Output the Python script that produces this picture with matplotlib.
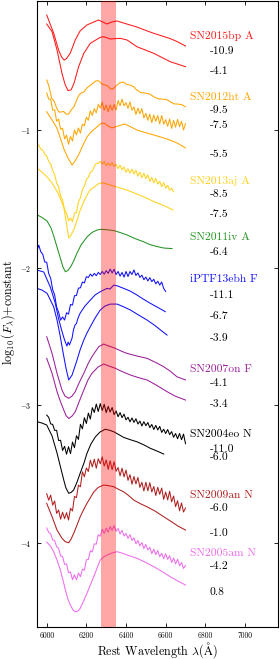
import numpy as np
import matplotlib
matplotlib.use("Agg")
import matplotlib.pyplot as plt

plt.rcParams['font.family'] = ['cmr10', 'DejaVu Serif']
plt.rcParams['mathtext.fontset'] = 'cm'
plt.rcParams['axes.unicode_minus'] = False
plt.rcParams['axes.formatter.use_mathtext'] = True

# ---------------- data ----------------
# SN2015bp
wl_15bp_a = [6000, 6035, 6060, 6075, 6088, 6100, 6119, 6144, 6169, 6203, 6261, 6284, 6303, 6328,
             6354, 6404, 6455, 6495, 6540, 6582, 6623, 6657, 6700]
fl_15bp_a = [-0.165, -0.296, -0.419, -0.470, -0.492, -0.481, -0.441, -0.346, -0.279, -0.237, -0.201,
             -0.216, -0.230, -0.216, -0.208, -0.230, -0.252, -0.274, -0.298, -0.317, -0.336, -0.357, -0.390]
wl_15bp_b = [6000, 6027, 6052, 6077, 6092, 6107, 6123, 6138, 6161, 6187, 6220, 6270, 6287, 6321,
             6371, 6405, 6455, 6540, 6623, 6700]
fl_15bp_b = [-0.230, -0.286, -0.419, -0.588, -0.666, -0.713, -0.709, -0.659, -0.540, -0.443, -0.370,
             -0.327, -0.322, -0.339, -0.334, -0.346, -0.395, -0.443, -0.504, -0.540]

# SN2012ht
wl_12ht_a = [6000, 6010, 6025, 6037, 6050, 6062, 6072, 6085, 6097, 6110, 6123, 6138, 6151, 6163, 6175,
             6190, 6202, 6228, 6245, 6261, 6277, 6294, 6308, 6322, 6336, 6349, 6368, 6387, 6404, 6420,
             6437, 6455, 6475, 6495, 6518, 6540, 6561, 6582, 6603, 6623, 6640, 6657, 6680, 6700]
fl_12ht_a = [-0.637, -0.675, -0.768, -0.790, -0.840, -0.870, -0.869, -0.865, -0.884, -0.885, -0.855,
             -0.830, -0.782, -0.745, -0.731, -0.720, -0.695, -0.666, -0.645, -0.641, -0.665, -0.673,
             -0.680, -0.702, -0.700, -0.680, -0.658, -0.651, -0.670, -0.673, -0.684, -0.710, -0.728,
             -0.731, -0.738, -0.758, -0.773, -0.775, -0.778, -0.794, -0.810, -0.811, -0.815, -0.831]
wl_12ht_b = np.arange(6000, 6701, 10)
fl_12ht_b = [-0.731, -0.776, -0.776, -0.856, -0.853, -0.936, -0.921, -0.995, -0.987, -1.064,
             -1.037, -1.103, -1.047, -1.079, -1.000, -1.035, -0.985, -1.023, -0.957, -0.970,
             -0.907, -0.929, -0.860, -0.894, -0.845, -0.875, -0.814, -0.841, -0.799, -0.856,
             -0.819, -0.868, -0.818, -0.857, -0.815, -0.854, -0.786, -0.824, -0.776, -0.824,
             -0.801, -0.843, -0.796, -0.856, -0.832, -0.887, -0.841, -0.882, -0.845, -0.912,
             -0.879, -0.929, -0.885, -0.946, -0.891, -0.937, -0.895, -0.955, -0.894, -0.957,
             -0.925, -0.973, -0.920, -0.988, -0.931, -0.979, -0.923, -0.976, -0.936, -1.000,
             -0.954]
wl_12ht_c = [6000, 6027, 6052, 6072, 6087, 6107, 6128, 6143, 6163, 6183, 6203, 6223, 6245, 6269,
             6289, 6309, 6329, 6359, 6394, 6425, 6455, 6495, 6540, 6582, 6622, 6657, 6700]
fl_12ht_c = [-0.867, -0.927, -0.988, -1.073, -1.138, -1.203, -1.254, -1.225, -1.174, -1.109, -1.051,
             -1.015, -0.988, -0.956, -0.949, -0.971, -0.985, -0.971, -0.956, -0.978, -1.000, -1.018,
             -1.036, -1.054, -1.073, -1.094, -1.130]

# SN2013aj
wl_13aj_a = np.arange(5950, 6641, 10)
fl_13aj_a = [-1.099, -1.110, -1.139, -1.146, -1.177, -1.188, -1.229, -1.247, -1.294, -1.323,
             -1.384, -1.411, -1.480, -1.507, -1.582, -1.604, -1.659, -1.639, -1.666, -1.602,
             -1.600, -1.522, -1.493, -1.432, -1.407, -1.359, -1.343, -1.306, -1.298, -1.264,
             -1.242, -1.242, -1.227, -1.247, -1.228, -1.259, -1.239, -1.259, -1.236, -1.265,
             -1.248, -1.281, -1.255, -1.289, -1.268, -1.308, -1.281, -1.313, -1.284, -1.319,
             -1.292, -1.334, -1.306, -1.347, -1.314, -1.353, -1.325, -1.373, -1.344, -1.383,
             -1.352, -1.393, -1.372, -1.411, -1.381, -1.422, -1.402, -1.437, -1.423, -1.449]
wl_13aj_b = [5951, 5976, 6002, 6027, 6042, 6057, 6072, 6087, 6097, 6111, 6123, 6138, 6153, 6169,
             6188, 6203, 6218, 6239, 6259, 6279, 6304, 6338, 6370, 6405, 6455, 6506, 6546, 6571,
             6607, 6637]
fl_13aj_b = [-1.276, -1.305, -1.341, -1.385, -1.421, -1.458, -1.508, -1.566, -1.654, -1.784, -1.762,
             -1.719, -1.654, -1.581, -1.516, -1.472, -1.436, -1.414, -1.392, -1.383, -1.392, -1.407,
             -1.421, -1.436, -1.465, -1.496, -1.523, -1.537, -1.559, -1.581]

# SN2011iv
wl_11iv = [5953, 5976, 6002, 6022, 6037, 6052, 6067, 6082, 6094, 6107, 6123, 6138, 6153, 6173, 6203,
           6228, 6254, 6274, 6304, 6337, 6370, 6405, 6445, 6486, 6521, 6556, 6591, 6632]
fl_11iv = [-1.617, -1.635, -1.661, -1.712, -1.777, -1.850, -1.922, -1.995, -2.029, -2.020, -1.988,
           -1.944, -1.893, -1.835, -1.777, -1.744, -1.726, -1.721, -1.724, -1.730, -1.744, -1.762,
           -1.788, -1.810, -1.832, -1.846, -1.857, -1.861]

# iPTF13ebh
wl_13ebh_a = np.arange(5950, 6601, 10)
fl_13ebh_a = [-1.879, -1.836, -1.884, -1.902, -1.958, -1.960, -2.042, -2.077, -2.159, -2.197,
              -2.286, -2.323, -2.381, -2.357, -2.380, -2.327, -2.337, -2.267, -2.271, -2.203,
              -2.202, -2.148, -2.146, -2.104, -2.110, -2.065, -2.071, -2.046, -2.062, -2.041,
              -2.058, -2.034, -2.049, -2.027, -2.047, -2.021, -2.041, -2.010, -2.038, -2.011,
              -2.050, -2.027, -2.061, -2.034, -2.068, -2.027, -2.064, -2.027, -2.049, -2.016,
              -2.056, -2.038, -2.070, -2.054, -2.087, -2.068, -2.096, -2.072, -2.101, -2.084,
              -2.117, -2.098, -2.126, -2.104, -2.151, -2.172]
wl_13ebh_b = [5951, 5985, 6018, 6043, 6059, 6075, 6090, 6102, 6108, 6115, 6128, 6135, 6143, 6150,
              6158, 6169, 6193, 6220, 6244, 6270, 6304, 6319, 6338, 6359, 6388, 6420, 6455, 6486,
              6522, 6561, 6598]
fl_13ebh_b = [-2.017, -2.031, -2.140, -2.256, -2.365, -2.452, -2.525, -2.569, -2.540, -2.561, -2.510,
              -2.450, -2.416, -2.405, -2.365, -2.329, -2.278, -2.235, -2.198, -2.174, -2.150, -2.155,
              -2.126, -2.133, -2.150, -2.169, -2.198, -2.227, -2.258, -2.289, -2.319]
wl_13ebh_c = [5951, 5976, 6002, 6035, 6052, 6067, 6082, 6097, 6111, 6128, 6153, 6168, 6187, 6203,
              6220, 6244, 6270, 6294, 6321, 6355, 6385, 6422, 6455, 6506, 6546, 6581, 6607]
fl_13ebh_c = [-2.150, -2.162, -2.186, -2.283, -2.380, -2.489, -2.612, -2.728, -2.815, -2.779, -2.670,
              -2.598, -2.525, -2.474, -2.428, -2.365, -2.307, -2.278, -2.264, -2.264, -2.282, -2.307,
              -2.336, -2.380, -2.420, -2.460, -2.489]

# SN2007on
wl_07on_a = [6000, 6027, 6052, 6077, 6092, 6111, 6128, 6144, 6163, 6187, 6208, 6228, 6262, 6287,
             6314, 6346, 6375, 6405, 6455, 6506, 6546, 6590, 6622, 6657, 6700]
fl_07on_a = [-2.501, -2.622, -2.767, -2.888, -2.932, -2.948, -2.932, -2.900, -2.837, -2.767, -2.699,
             -2.646, -2.574, -2.554, -2.569, -2.585, -2.605, -2.622, -2.641, -2.658, -2.685, -2.719,
             -2.750, -2.792, -2.815]
wl_07on_b = [6000, 6027, 6052, 6070, 6086, 6097, 6111, 6128, 6144, 6163, 6187, 6208, 6228, 6259,
             6287, 6314, 6346, 6380, 6422, 6460, 6506, 6556, 6607, 6647, 6700]
fl_07on_b = [-2.658, -2.767, -2.900, -2.975, -3.033, -3.073, -3.095, -3.077, -3.046, -2.975, -2.888,
             -2.815, -2.767, -2.721, -2.699, -2.714, -2.730, -2.754, -2.779, -2.797, -2.815, -2.855,
             -2.900, -2.932, -2.961]

# SN2004eo
wl_04eo_a = np.arange(6000, 6701, 10)
fl_04eo_a = [-3.070, -3.086, -3.134, -3.138, -3.181, -3.181, -3.255, -3.253, -3.327, -3.297,
             -3.354, -3.300, -3.350, -3.266, -3.307, -3.220, -3.247, -3.137, -3.170, -3.089,
             -3.131, -3.056, -3.099, -3.016, -3.051, -2.990, -3.044, -2.987, -3.036, -2.992,
             -3.052, -3.007, -3.048, -3.015, -3.067, -3.040, -3.082, -3.052, -3.089, -3.063,
             -3.105, -3.086, -3.119, -3.091, -3.123, -3.097, -3.135, -3.114, -3.149, -3.118,
             -3.147, -3.124, -3.161, -3.138, -3.175, -3.145, -3.178, -3.152, -3.196, -3.173,
             -3.204, -3.175, -3.212, -3.190, -3.231, -3.204, -3.242, -3.204, -3.249, -3.208,
             -3.278]
wl_04eo_b = [5951, 5976, 6000, 6027, 6052, 6067, 6086, 6097, 6111, 6123, 6136, 6153, 6169, 6188,
             6203, 6223, 6245, 6269, 6295, 6314, 6338, 6359, 6388, 6420, 6455, 6491, 6522, 6556, 6590]
fl_04eo_b = [-3.118, -3.128, -3.142, -3.222, -3.346, -3.433, -3.542, -3.600, -3.638, -3.632, -3.614,
             -3.556, -3.491, -3.418, -3.348, -3.280, -3.229, -3.193, -3.173, -3.179, -3.191, -3.208,
             -3.232, -3.248, -3.264, -3.287, -3.311, -3.331, -3.353]

# SN2009an
wl_09an_a = np.arange(6000, 6701, 10)
fl_09an_a = [-3.641, -3.688, -3.651, -3.724, -3.694, -3.784, -3.760, -3.826, -3.776, -3.822,
             -3.779, -3.832, -3.747, -3.766, -3.661, -3.669, -3.579, -3.590, -3.482, -3.518,
             -3.454, -3.480, -3.398, -3.446, -3.390, -3.456, -3.387, -3.424, -3.374, -3.440,
             -3.396, -3.464, -3.402, -3.466, -3.409, -3.478, -3.451, -3.511, -3.456, -3.519,
             -3.469, -3.544, -3.503, -3.572, -3.516, -3.570, -3.523, -3.595, -3.558, -3.621,
             -3.558, -3.620, -3.561, -3.628, -3.589, -3.654, -3.595, -3.645, -3.600, -3.682,
             -3.629, -3.686, -3.623, -3.700, -3.658, -3.735, -3.692, -3.765, -3.708, -3.774,
             -3.745]
wl_09an_b = [6000, 6027, 6052, 6077, 6094, 6111, 6123, 6136, 6153, 6169, 6188, 6203, 6237, 6259,
             6287, 6309, 6338, 6359, 6388, 6410, 6439, 6470, 6506, 6546, 6590, 6632, 6662, 6700]
fl_09an_b = [-3.711, -3.808, -3.905, -3.965, -3.990, -3.997, -3.970, -3.929, -3.868, -3.808, -3.752,
             -3.711, -3.629, -3.596, -3.578, -3.582, -3.590, -3.607, -3.627, -3.651, -3.687, -3.712,
             -3.736, -3.767, -3.808, -3.847, -3.876, -3.905]

# SN2005am
wl_05am_a = np.arange(6000, 6701, 10)
fl_05am_a = [-3.890, -3.922, -3.932, -3.977, -3.981, -4.026, -4.037, -4.093, -4.097, -4.154,
             -4.151, -4.215, -4.210, -4.266, -4.230, -4.266, -4.217, -4.244, -4.189, -4.197,
             -4.121, -4.118, -4.055, -4.064, -4.005, -4.008, -3.939, -3.950, -3.900, -3.929,
             -3.891, -3.920, -3.880, -3.907, -3.873, -3.914, -3.894, -3.934, -3.907, -3.948,
             -3.930, -3.965, -3.939, -3.980, -3.962, -4.005, -3.981, -4.020, -3.996, -4.039,
             -4.010, -4.049, -4.031, -4.076, -4.044, -4.083, -4.054, -4.098, -4.074, -4.113,
             -4.077, -4.118, -4.091, -4.140, -4.108, -4.151, -4.117, -4.165, -4.141, -4.184,
             -4.162]
wl_05am_b = [6000, 6019, 6035, 6052, 6069, 6082, 6094, 6107, 6119, 6133, 6144, 6158, 6169, 6186,
             6203, 6220, 6237, 6254, 6270, 6286, 6304, 6329, 6354, 6380, 6405, 6455, 6495, 6540,
             6582, 6623, 6657, 6700]
fl_05am_b = [-3.992, -4.021, -4.062, -4.123, -4.195, -4.268, -4.340, -4.406, -4.449, -4.486, -4.498,
             -4.493, -4.473, -4.420, -4.364, -4.304, -4.244, -4.181, -4.123, -4.101, -4.086, -4.072,
             -4.062, -4.072, -4.086, -4.110, -4.137, -4.171, -4.206, -4.244, -4.272, -4.304]

names = ['SN2015bp A', 'SN2012ht A', 'SN2013aj A', 'SN2011iv A', 'iPTF13ebh F',
         'SN2007on F', 'SN2004eo N', 'SN2009an N', 'SN2005am N']
name_y = [-0.317, -0.765, -1.373, -1.782, -2.082, -2.738, -3.208, -3.651, -4.074]
phases = ['-10.9', '-4.1', '-9.5', '-7.5', '-5.5', '-8.5', '-7.5', '-6.4', '-11.1', '-6.7', '-3.9',
          '-4.1', '-3.4', '-11.0', '-6.0', '-6.0', '-1.0', '-4.2', '0.8']
phase_y = [-0.426, -0.571, -0.857, -0.966, -1.177, -1.465, -1.610, -1.888, -2.198, -2.349, -2.513,
           -2.840, -2.990, -3.317, -3.377, -3.747, -3.929, -4.171, -4.353]

band_lo, band_hi = 6275, 6347
xticks = [6000, 6200, 6400, 6600, 6800, 7000]
yticks = [-1, -2, -3, -4]

# ---------------- styles ----------------
colors = {'15bp': '#ff1a1a', '12ht': '#ffa500', '13aj': '#ffd21a', '11iv': '#239423',
          '13ebh': '#1010ff', '07on': '#9a1f9a', '04eo': '#000000', '09an': '#b01e1e',
          '05am': '#ee6bee'}
name_colors = [colors[k] for k in ['15bp', '12ht', '13aj', '11iv', '13ebh', '07on', '04eo', '09an', '05am']]

spectra = [
    (wl_15bp_a, fl_15bp_a, colors['15bp']), (wl_15bp_b, fl_15bp_b, colors['15bp']),
    (wl_12ht_a, fl_12ht_a, colors['12ht']), (wl_12ht_b, fl_12ht_b, colors['12ht']),
    (wl_12ht_c, fl_12ht_c, colors['12ht']),
    (wl_13aj_a, fl_13aj_a, colors['13aj']), (wl_13aj_b, fl_13aj_b, colors['13aj']),
    (wl_11iv, fl_11iv, colors['11iv']),
    (wl_13ebh_a, fl_13ebh_a, colors['13ebh']), (wl_13ebh_b, fl_13ebh_b, colors['13ebh']),
    (wl_13ebh_c, fl_13ebh_c, colors['13ebh']),
    (wl_07on_a, fl_07on_a, colors['07on']), (wl_07on_b, fl_07on_b, colors['07on']),
    (wl_04eo_a, fl_04eo_a, colors['04eo']), (wl_04eo_b, fl_04eo_b, colors['04eo']),
    (wl_09an_a, fl_09an_a, colors['09an']), (wl_09an_b, fl_09an_b, colors['09an']),
    (wl_05am_a, fl_05am_a, colors['05am']), (wl_05am_b, fl_05am_b, colors['05am']),
]

# ---------------- figure ----------------
W, H = 280, 659
fig = plt.figure(figsize=(W / 100, H / 100), dpi=100)
ax = fig.add_axes([37 / W, 1 - 627 / H, (277.7 - 37) / W, (627 - 1) / H])

for wl, fl, c in spectra:
    ax.plot(wl, fl, color=c, lw=0.75, zorder=2)

ax.axvspan(band_lo, band_hi, color='red', alpha=0.35, lw=0, zorder=3)

for nm, y, c in zip(names, name_y, name_colors):
    ax.text(6722, y, nm, color=c, fontsize=8.3, ha='left', va='center', zorder=5)
for ph, y in zip(phases, phase_y):
    ax.text(6821, y, ph, color='black', fontsize=8.3, ha='left', va='center', zorder=5)

ax.set_xlim(5951, 7165)
ax.set_ylim(-4.609, -0.063)
ax.set_xticks(xticks)
ax.set_xticklabels([str(t) for t in xticks])
ax.set_yticks(yticks)
ax.set_yticklabels([r'$-%d$' % (-t) for t in yticks])
ax.tick_params(direction='in', top=True, right=True, length=3, width=0.6, labelsize=5.5)
ax.tick_params(axis='x', pad=3)
ax.tick_params(axis='y', pad=4)
for s in ax.spines.values():
    s.set_linewidth(0.8)

fig.text(157 / W, 1 - 650 / H, r'Rest Wavelength $\lambda(\mathrm{\AA})$', ha='center', va='center',
         fontsize=8.7)
fig.text(8 / W, 1 - 312 / H, r'$\log_{10}(F_\lambda)$+constant', ha='center', va='center',
         rotation=90, fontsize=8.7)

fig.savefig('out.png', dpi=100)
